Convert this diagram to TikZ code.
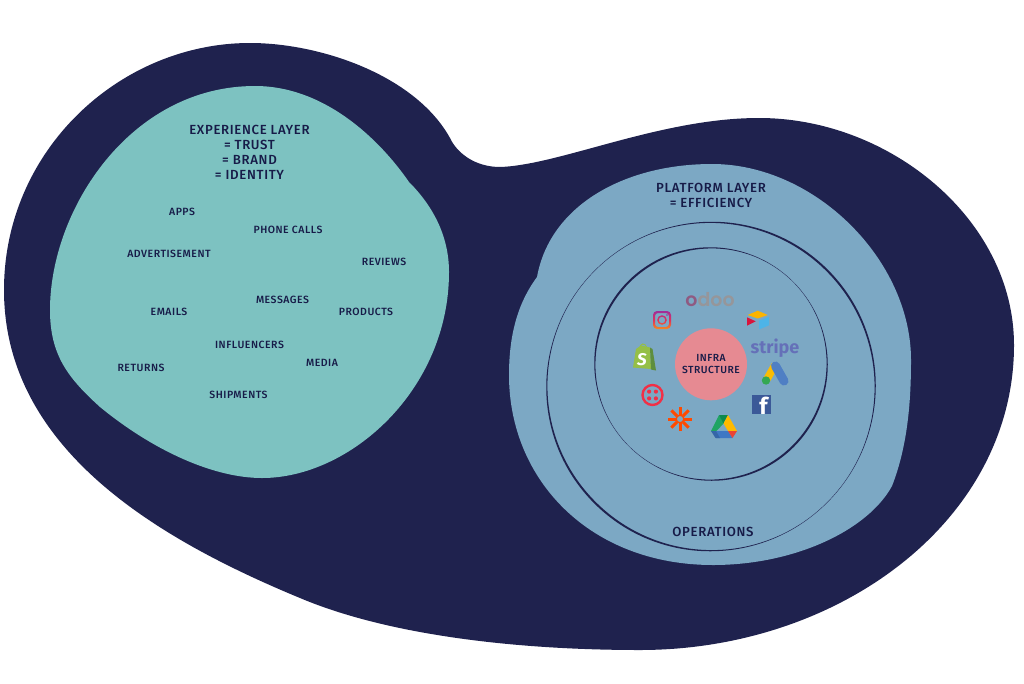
\documentclass[tikz,border=0pt]{standalone}
\usepackage{fontspec}
\setmainfont{Fira Sans}
\newfontfamily\lblfont[LetterSpace=5]{Fira Sans Medium}
\newfontfamily\logofont{Poppins SemiBold}
\newfontfamily\boldlogo{Fira Sans Bold}
\definecolor{navy}{HTML}{1F224E}
\definecolor{ink}{HTML}{171B48}
\definecolor{tealblob}{HTML}{7DC2C1}
\definecolor{platblob}{HTML}{7CA8C4}
\definecolor{core}{HTML}{E68A92}
\definecolor{odoogray}{HTML}{96969A}
\definecolor{odoopurple}{HTML}{8F5A82}
\definecolor{shopA}{HTML}{95BF47}
\definecolor{shopB}{HTML}{5E8E3E}
\definecolor{twilio}{HTML}{F22F46}
\definecolor{zapier}{HTML}{FF4A00}
\definecolor{driveG}{HTML}{1FA463}
\definecolor{driveGd}{HTML}{0D8A4F}
\definecolor{driveY}{HTML}{FFBA00}
\definecolor{driveB}{HTML}{3F78C4}
\definecolor{driveBd}{HTML}{3566A8}
\definecolor{driveR}{HTML}{EA4335}
\definecolor{airY}{HTML}{FCB400}
\definecolor{airB}{HTML}{4DB4E8}
\definecolor{airR}{HTML}{D9143C}
\definecolor{stripeC}{HTML}{6570B8}
\definecolor{adsY}{HTML}{FBBC04}
\definecolor{adsB}{HTML}{4F7FC4}
\definecolor{adsG}{HTML}{34A853}
\definecolor{fb}{HTML}{3B5998}
\definecolor{igA}{HTML}{A02C9A}
\definecolor{igB}{HTML}{E0305A}
\definecolor{igC}{HTML}{F58A1F}
\tikzset{
 smalllbl/.style={font=\lblfont\fontsize{10.5}{12}\selectfont,text=ink,inner sep=0pt},
 headlbl/.style={font=\lblfont\fontsize{13.2}{15}\selectfont,text=ink,inner sep=0pt,align=center},
 corelbl/.style={font=\lblfont\fontsize{10.3}{11.7}\selectfont,text=ink,inner sep=0pt,align=center},
 ringink/.style={fill=navy,even odd rule},
}
\begin{document}
\begin{tikzpicture}[x=1pt,y=-1pt]
\useasboundingbox (0,0) rectangle (1024,683);
\fill[white] (0,0) rectangle (1024,683);
% outer blob
\fill[navy] (4,290)
 .. controls (4,150) and (120,43) .. (250,43)
 .. controls (320,43) and (415,75) .. (450,138)
 .. controls (457,153) and (475,167) .. (500,167)
 .. controls (560,165) and (660,118) .. (759,118)
 .. controls (890,118) and (1014,220) .. (1014,345)
 .. controls (1014,520) and (840,650) .. (640,650)
 .. controls (520,650) and (390,636) .. (300,598)
 .. controls (160,540) and (4,450) .. (4,290) -- cycle;
% experience layer
\fill[tealblob] (50,310)
 .. controls (50,210) and (130,86) .. (255,86)
 .. controls (325,86) and (380,140) .. (409,182)
 .. controls (432,205) and (449,235) .. (449,272)
 .. controls (449,390) and (350,478) .. (262,478)
 .. controls (215,478) and (155,452) .. (100,407)
 .. controls (68,378) and (50,355) .. (50,310) -- cycle;
% platform layer
\fill[platblob] (537,277)
 .. controls (550,205) and (625,164) .. (712,164)
 .. controls (815,164) and (911,260) .. (911,360)
 .. controls (911,400) and (908,445) .. (892,486)
 .. controls (868,530) and (795,565) .. (713,565)
 .. controls (590,565) and (509,480) .. (509,375)
 .. controls (509,330) and (520,300) .. (537,277) -- cycle;
% rings
\path[ringink] (711,386.5) ellipse[x radius=165.2pt,y radius=164.3pt,rotate=45]
 (711,386.5) ellipse[x radius=163.2pt,y radius=164pt,rotate=45];
\path[ringink] (711,364) ellipse[x radius=117.2pt,y radius=116.3pt,rotate=135]
 (711,364) ellipse[x radius=115.2pt,y radius=116pt,rotate=135];
% core
\node[circle,fill=core,minimum size=72pt,inner sep=0pt,corelbl] (corecircle) at (711,364.3) {INFRA\\STRUCTURE};
% texts
\node[headlbl] (exp) at (249.5,152.3) {EXPERIENCE LAYER\\= TRUST\\= BRAND\\= IDENTITY};
\node[headlbl] (plat) at (711,195.8) {PLATFORM LAYER\\= EFFICIENCY};
\node[headlbl] (ops) at (713,532.3) {OPERATIONS};
\node[smalllbl] (apps) at (182,212.3) {APPS};
\node[smalllbl] (phone) at (288,230.3) {PHONE CALLS};
\node[smalllbl] (adv) at (169,254.3) {ADVERTISEMENT};
\node[smalllbl] (rev) at (384,262.3) {REVIEWS};
\node[smalllbl] (msg) at (282.5,299.8) {MESSAGES};
\node[smalllbl] (mail) at (169,312.3) {EMAILS};
\node[smalllbl] (prod) at (366,312.3) {PRODUCTS};
\node[smalllbl] (infl) at (249.5,345.3) {INFLUENCERS};
\node[smalllbl] (media) at (322,363.3) {MEDIA};
\node[smalllbl] (ret) at (141,368.3) {RETURNS};
\node[smalllbl] (ship) at (238.5,395.3) {SHIPMENTS};
% odoo
\node[font=\logofont\fontsize{19}{19}\selectfont,text=odoogray,inner sep=0pt] (odoo) at (710,299.5) {\textcolor{odoopurple}{o}doo};
% instagram
\shade[top color=igA,bottom color=igC,middle color=igB,even odd rule]
 {[rounded corners=4pt] (653,311) rectangle (671,329)}
 {[rounded corners=3pt] (655,313) rectangle (669,327)}
 (662,320) circle[radius=4.8pt] (662,320) circle[radius=3.3pt];
\fill[igA] (667,315) circle[radius=.9pt];
% shopify
\fill[shopA] (641,345.5) -- (650,347.5) -- (651,369) -- (633,367.5) -- (636,349) -- cycle;
\fill[shopB] (650,347.5) -- (652.5,349) -- (656,370.5) -- (651,369.5) -- cycle;
\draw[shopA,line width=1pt] (639.5,349) .. controls (640,343) and (645,342) .. (647,348);
\node[font=\boldlogo\itshape\fontsize{17}{17}\selectfont,text=white,inner sep=0pt] (shopS) at (642,360) {S};
% twilio
\draw[twilio,line width=2.4pt] (652.5,395) circle[radius=10pt];
\foreach \dx in {-3.4,3.4}\foreach \dy in {-3.4,3.4}
 \fill[twilio] (652.5+\dx,395+\dy) circle[radius=2.1pt];
% zapier
\foreach \a in {0,45,...,315}
 \draw[zapier,line width=3pt] (680,419) ++(\a:4.4pt) -- ++(\a:7.8pt);
\draw[zapier,line width=1.5pt] (680,419) circle[radius=3.9pt];
% google drive
\fill[driveG] (711,431) -- (719,415) -- (724,423) -- (716,431.5) -- cycle;
\fill[driveGd] (719,415) -- (728,415) -- (723.5,423.5) -- cycle;
\fill[driveY] (728,415) -- (737,431) -- (728,431) -- (723.5,423.5) -- cycle;
\fill[driveB] (716,431) -- (728,431) -- (732.5,438) -- (716,438) -- cycle;
\fill[driveBd] (711,431) -- (716,431) -- (720,438) -- (715.5,438) -- cycle;
\fill[driveR] (728,431) -- (737,431) -- (732.5,438) -- cycle;
% airtable
\fill[airY] (757.7,310.7) -- (767.7,315) -- (757.7,318.5) -- (747.7,315) -- cycle;
\fill[airB] (759,320.7) -- (769,316.7) -- (769,325.3) -- (759,329.5) -- cycle;
\fill[airR] (747,317.3) -- (755.7,321.3) -- (747,325.7) -- cycle;
% stripe
\node[font=\boldlogo\fontsize{18}{18}\selectfont,text=stripeC,inner sep=0pt] (stripe) at (775,348.5) {stripe};
% google ads
\draw[adsY,line width=7.5pt] (775,365) -- (766.5,380);
\draw[adsB,line width=9pt,line cap=round] (775.5,366) -- (784,381);
\fill[adsG] (766,380.5) circle[radius=4.2pt];
% facebook
\node[fill=fb,minimum size=19pt,inner sep=0pt] (fbbox) at (761.7,404.5) {};
\node[font=\boldlogo\fontsize{23}{23}\selectfont,text=white,inner sep=0pt,anchor=base] (fbf) at (763.5,414) {f};
\end{tikzpicture}
\end{document}
